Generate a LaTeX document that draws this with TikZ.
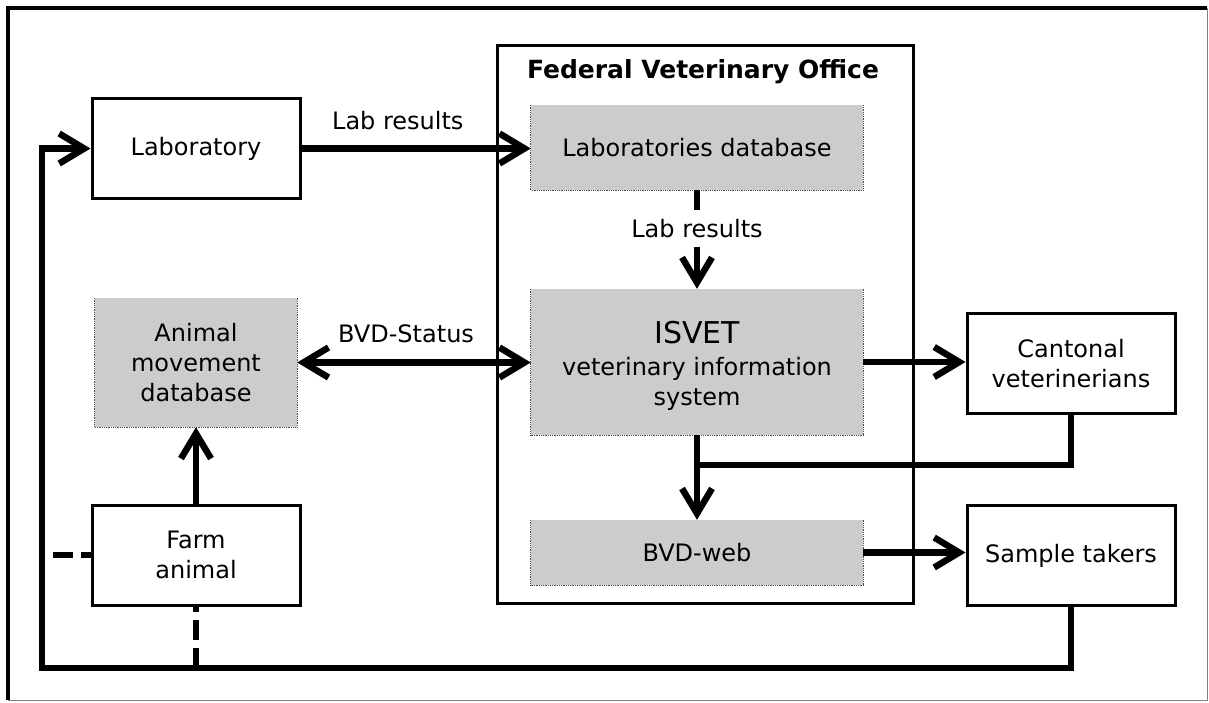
\documentclass[tikz,border=0pt]{standalone}
\usepackage{fontspec}
\setmainfont{DejaVu Sans}
\usetikzlibrary{arrows.meta}
\definecolor{boxgray}{RGB}{204,204,204}
\begin{document}
\begin{tikzpicture}[x=1pt,y=-1pt,
  every node/.style={font=\fontsize{24}{30}\selectfont, inner sep=0pt, align=center},
  wbox/.style={draw=black, line width=3pt, fill=white, minimum width=208pt, minimum height=100pt},
  gbox/.style={fill=boxgray, minimum width=332pt},
  conn/.style={line width=6.5pt, >={Straight Barb[length=25pt,width=30pt]}},
  dashconn/.style={line width=6.5pt, dash pattern=on 20pt off 8pt},
  dotborder/.style={draw=black!70, line width=0.8pt, densely dotted}]
\useasboundingbox (0,0) rectangle (1209,702);
% outer frame
\draw[line width=3.5pt] (8,700) -- (8,8) -- (1207,8);
\draw[gray, line width=1pt] (1207,8) -- (1207,700) -- (8,700);
% Federal Veterinary Office container
\node[draw, line width=3pt, minimum width=416pt, minimum height=558pt] (fvo) at (705,324) {};
\node[font=\bfseries\fontsize{25}{30}\selectfont] (fvotitle) at (703,72) {Federal Veterinary Office};
% boxes
\node[wbox] (lab) at (196,148.5) {Laboratory};
\node[gbox, minimum width=202pt, minimum height=129pt] (amd) at (196,362.5) {Animal\\movement\\database};
\node[wbox] (farm) at (196,555) {Farm\\animal};
\node[gbox, minimum height=85pt] (labdb) at (697,147.5) {Laboratories database};
\node[gbox, minimum height=146pt] (isvet) at (697,362) {};
\node[align=center] (isvettext) at (697,366) {{\fontsize{30}{36}\selectfont ISVET}\\[2pt]veterinary information\\system};
\node[gbox, minimum height=65pt] (web) at (697,552.5) {BVD-web};
\node[wbox] (cant) at (1071,363.5) {Cantonal\\veterinerians};
\node[wbox] (samp) at (1071,555.5) {Sample takers};
\foreach \n in {labdb,isvet,web,amd}
  \draw[dotborder] (\n.north west) -- (\n.south west) -- (\n.south east) -- (\n.north east);
% coordinates
\coordinate (bl) at (42,668);
\coordinate (join) at (697,465);
\coordinate (fw) at (53,555);
% connectors
\draw[conn,->] (lab.east) -- (lab.east -| labdb.west) node[pos=0.42, above=15pt] (l1) {Lab results};
\draw[conn,<->] (amd.east) -- (amd.east -| isvet.west) node[pos=0.466, above=16pt] (l3) {BVD-Status};
\draw[conn,->] (labdb.south) -- (isvet.north) node[pos=0.39, fill=white, inner sep=9pt] (l2) {Lab results};
\draw[conn,->] (isvet.east) -- (isvet.east -| cant.west);
\draw[conn,->] (isvet.south) -- (web.north);
\draw[conn] (cant.south) |- (join);
\draw[conn,->] (web.east) -- (web.east -| samp.west);
\draw[conn,->] (samp.south) |- (bl) |- (lab.west);
\draw[conn,->] (farm.north) -- (amd.south);
\draw[dashconn] (fw) -- (farm.west);
\draw[dashconn] (farm.south |- bl) -- (farm.south);
\end{tikzpicture}
\end{document}
